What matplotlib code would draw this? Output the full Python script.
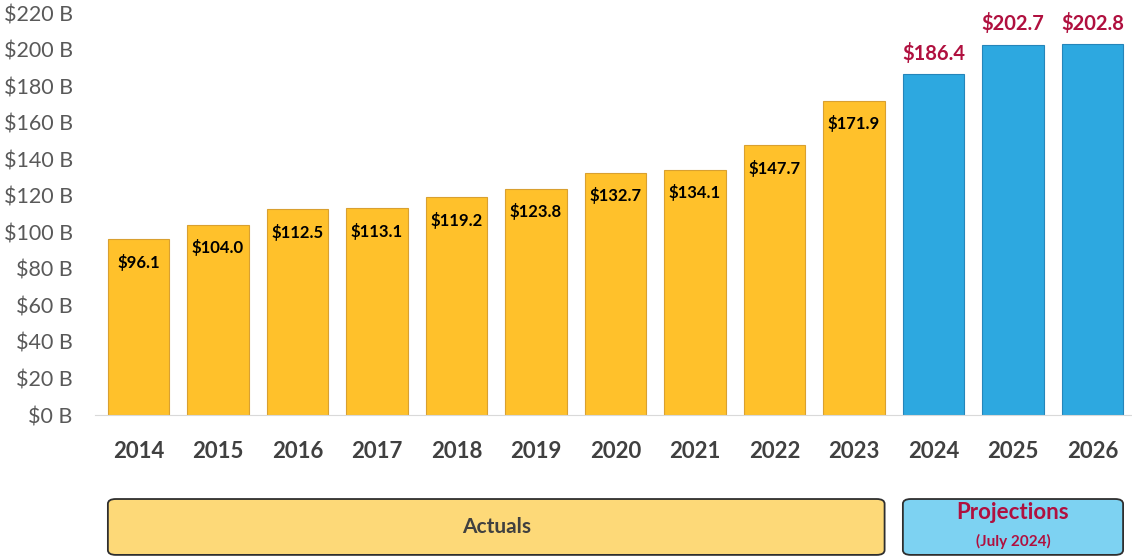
import numpy as np
import matplotlib.pyplot as plt
from matplotlib.patches import FancyBboxPatch
from matplotlib.transforms import blended_transform_factory

plt.rcParams['font.family'] = ['Lato', 'DejaVu Sans']

actual_years = ['2014', '2015', '2016', '2017', '2018', '2019', '2020', '2021', '2022', '2023']
actual_vals = [96.1, 104.0, 112.5, 113.1, 119.2, 123.8, 132.7, 134.1, 147.7, 171.9]
proj_years = ['2024', '2025', '2026']
proj_vals = [186.4, 202.7, 202.8]
y_ticks = list(range(0, 221, 20))

YELLOW = '#FFC12B'
BLUE = '#2DA8E0'
RED = '#B0103F'
GRAY = '#404040'
W = 0.77

fig = plt.figure(figsize=(11.32, 5.59), dpi=100)
ax = fig.add_axes([95 / 1132, 144 / 559, 1037 / 1132, 402 / 559])

xa = np.arange(len(actual_vals))
xp = np.arange(len(proj_vals)) + len(actual_vals)
ax.bar(xa, actual_vals, width=W, color=YELLOW, edgecolor='#D9A030', linewidth=0.8)
ax.bar(xp, proj_vals, width=W, color=BLUE, edgecolor='#2585BA', linewidth=0.8)

for x, v in zip(xa, actual_vals):
    ax.annotate(f'${v:.1f}', (x, v), xytext=(0, -16.5), textcoords='offset points',
                ha='center', va='center', fontsize=12, fontweight='bold', color='black')
for x, v in zip(xp, proj_vals):
    ax.annotate(f'${v:.1f}', (x, v), xytext=(0, 15), textcoords='offset points',
                ha='center', va='center', fontsize=14.5, fontweight='bold', color=RED)

ax.set_xlim(-0.547, 12.497)
ax.set_ylim(0, 220)
ax.set_yticks(y_ticks)
ax.set_yticklabels([f'${t} B' for t in y_ticks], fontsize=15.5, color='#595959')
ax.set_xticks(np.concatenate([xa, xp]))
ax.set_xticklabels(actual_years + proj_years, fontsize=16, fontweight='bold', color=GRAY)
ax.tick_params(axis='y', length=0, pad=16)
ax.tick_params(axis='x', length=0, pad=19)
for s in ['top', 'right', 'left']:
    ax.spines[s].set_visible(False)
ax.spines['bottom'].set_color('#D9D9D9')

# group boxes under the year labels
trans = blended_transform_factory(ax.transData, ax.transAxes)
groups = [(xa[0] - W / 2, xa[-1] + W / 2, '#FDD978'),
          (xp[0] - W / 2, xp[-1] + W / 2, '#7DD2F2')]
for x0, x1, fc in groups:
    box = FancyBboxPatch((x0, -0.348), x1 - x0, 0.139, transform=trans,
                         boxstyle='round,pad=0,rounding_size=0.1',
                         mutation_aspect=0.12, facecolor=fc, edgecolor='#2E2E2E',
                         linewidth=1.3, clip_on=False)
    ax.add_patch(box)

ax.text((xa[0] + xa[-1]) / 2, -0.278, 'Actuals', transform=trans, ha='center', va='center',
        fontsize=15, fontweight='bold', color=GRAY)
ax.text((xp[0] + xp[-1]) / 2, -0.243, 'Projections', transform=trans, ha='center', va='center',
        fontsize=16, fontweight='bold', color=RED)
ax.text((xp[0] + xp[-1]) / 2, -0.315, '(July 2024)', transform=trans, ha='center', va='center',
        fontsize=11, fontweight='bold', color=RED)

fig.savefig('out.png', dpi=100)
